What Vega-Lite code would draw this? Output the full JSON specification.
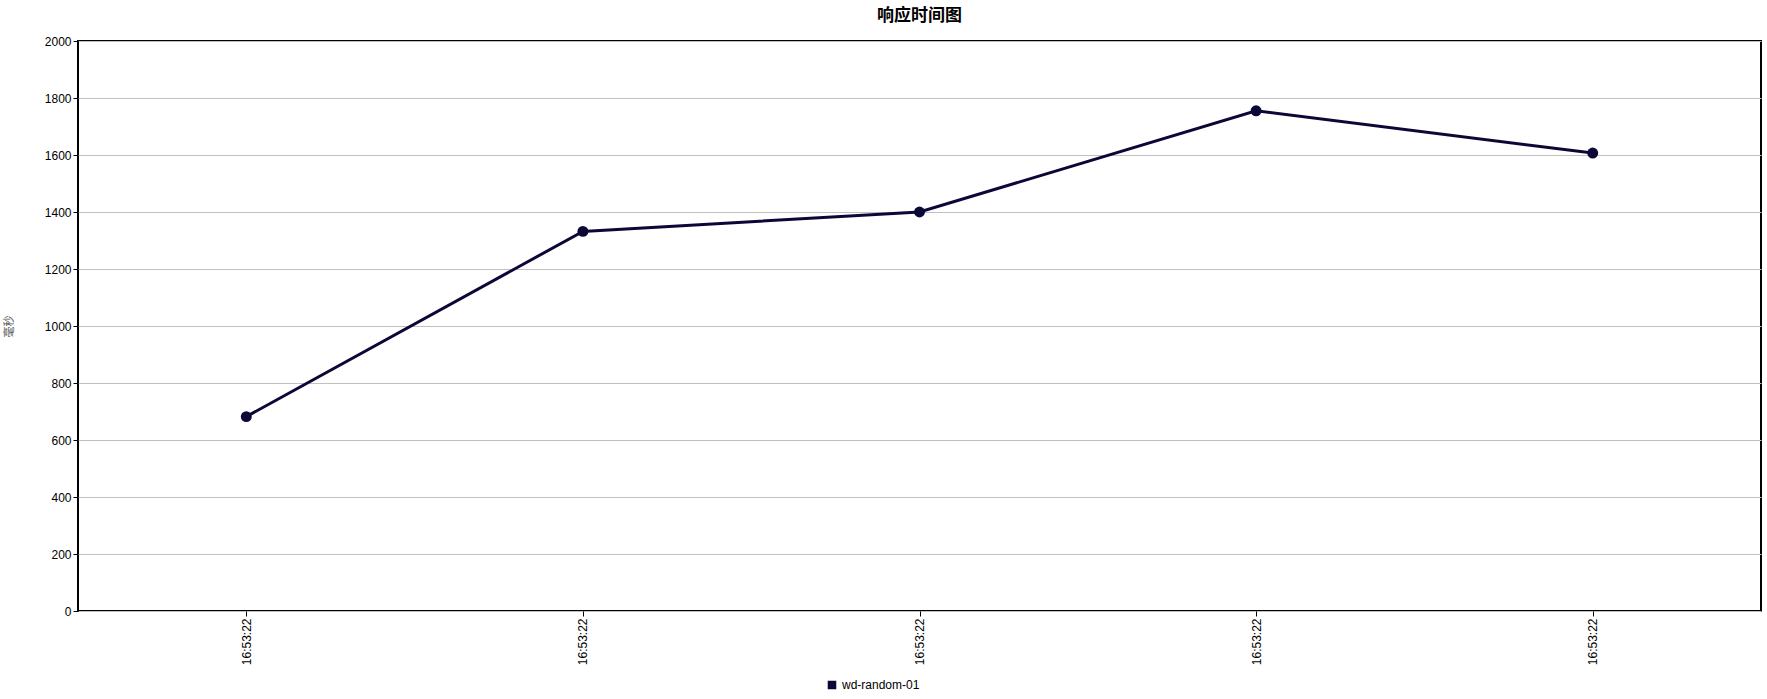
{
  "$schema": "https://vega.github.io/schema/vega-lite/v6.json",
  "width": 1683,
  "height": 570,
  "autosize": {"type": "none"},
  "padding": {"left": 78, "top": 41, "right": 6, "bottom": 88},
  "background": "white",
  "title": {
    "text": "响应时间图",
    "font": "Noto Sans CJK SC",
    "fontSize": 17,
    "fontWeight": "bold",
    "color": "black",
    "offset": 10
  },
  "data": {
    "values": [
      {"idx": 0, "time": "16:53:22", "ms": 682, "series": "wd-random-01"},
      {"idx": 1, "time": "16:53:22", "ms": 1332, "series": "wd-random-01"},
      {"idx": 2, "time": "16:53:22", "ms": 1400, "series": "wd-random-01"},
      {"idx": 3, "time": "16:53:22", "ms": 1755, "series": "wd-random-01"},
      {"idx": 4, "time": "16:53:22", "ms": 1607, "series": "wd-random-01"}
    ]
  },
  "encoding": {
    "x": {
      "field": "idx",
      "type": "ordinal",
      "scale": {"type": "point", "padding": 0.5},
      "axis": {
        "title": null,
        "labelExpr": "'16:53:22'",
        "labelAngle": -90,
        "labelFont": "Liberation Sans",
        "labelFontSize": 12,
        "labelColor": "black",
        "domain": false,
        "tickColor": "black",
        "tickSize": 5,
        "grid": false
      }
    },
    "y": {
      "field": "ms",
      "type": "quantitative",
      "scale": {"domain": [0, 2000]},
      "axis": {
        "title": "毫秒",
        "titleFont": "Noto Sans CJK SC",
        "titleFontSize": 11,
        "titleFontWeight": "normal",
        "titleColor": "#555555",
        "titleX": -64,
        "titleY": 285,
        "format": "d",
        "values": [0, 200, 400, 600, 800, 1000, 1200, 1400, 1600, 1800, 2000],
        "labelFont": "Liberation Sans",
        "labelFontSize": 12,
        "labelColor": "black",
        "domain": false,
        "tickColor": "black",
        "tickSize": 5,
        "gridColor": "#c0c0c0",
        "gridWidth": 1
      }
    },
    "color": {
      "field": "series",
      "type": "nominal",
      "scale": {"range": ["#0b0838"]},
      "legend": {
        "title": null,
        "orient": "none",
        "legendX": 748,
        "legendY": 638,
        "symbolType": "square",
        "symbolSize": 50,
        "labelFont": "Liberation Sans",
        "labelFontSize": 12,
        "labelColor": "black"
      }
    }
  },
  "layer": [
    {"mark": {"type": "line", "strokeWidth": 3}},
    {"mark": {"type": "point", "filled": true, "size": 120, "opacity": 1}}
  ],
  "config": {
    "view": {"stroke": "black", "strokeWidth": 2}
  }
}
